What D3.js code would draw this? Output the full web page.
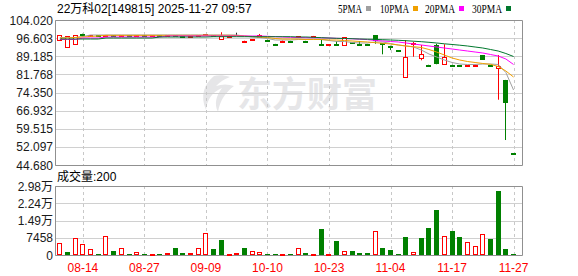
<!DOCTYPE html>
<html><head><meta charset="utf-8">
<script src="https://cdn.jsdelivr.net/npm/d3@7"></script>
<style>body{margin:0;background:#fff;}svg{display:block;}</style>
</head><body><svg id="c" width="578" height="276"></svg>
<script>
const title = "22万科02[149815] 2025-11-27 09:57";
const volTitle = "成交量:200";
const tickIdx = [3, 11, 19, 27, 35, 43, 51, 59];
const tickLabels = ["08-14", "08-27", "09-09", "10-10", "10-23", "11-04", "11-17", "11-27"];
const priceTicks = ["104.020", "96.603", "89.185", "81.768", "74.350", "66.932", "59.515", "52.097", "44.680"];
const volTicks = [0, 7458, 14916, 22374, 29832];
const volTickLabels = ["0", "7458", "1.49万", "2.24万", "2.98万"];
const maNames = ["5PMA", "10PMA", "20PMA", "30PMA"];

const open  = [95.90,92.97,94.08,98.17,97.60,97.70,97.60,97.75,97.60,97.70,97.60,97.70,97.60,97.70,97.60,97.70,97.50,97.50,97.70,98.05,97.80,96.10,97.50,97.90,95.02,96.00,97.06,95.90,94.25,95.50,95.60,97.30,95.50,97.40,94.20,93.90,94.20,93.79,94.90,94.30,94.25,97.88,94.50,93.40,91.60,80.57,94.20,88.35,85.70,93.60,85.90,85.65,85.60,85.50,85.70,89.70,85.50,84.30,79.50,49.45];
const high  = [97.88,97.47,97.88,98.41,97.70,97.70,97.75,97.75,97.70,97.70,97.70,97.70,97.70,97.70,97.70,97.70,97.50,97.60,97.78,98.20,97.80,99.00,97.60,98.82,95.55,96.10,98.30,95.90,94.25,95.60,95.60,97.45,95.50,97.50,96.10,94.00,95.40,96.94,94.90,95.40,94.25,97.88,94.50,93.50,91.60,95.83,95.14,93.79,85.70,94.30,94.10,85.65,85.60,85.60,85.80,89.70,85.50,89.70,79.50,49.45];
const low   = [95.90,92.97,94.08,97.35,97.60,97.60,97.60,97.65,97.60,97.60,97.60,97.60,97.60,97.60,97.60,97.50,97.45,97.50,97.70,98.05,97.70,96.10,97.50,97.90,95.02,96.00,97.06,95.80,94.15,95.50,95.50,97.30,95.40,97.40,93.79,93.90,93.79,93.79,94.50,93.80,94.15,94.30,89.98,91.70,91.50,80.57,89.00,87.52,85.55,85.90,85.90,85.55,85.50,85.50,85.70,87.65,85.40,71.40,54.90,49.35];
const close = [97.88,97.47,97.88,97.35,97.70,97.60,97.75,97.65,97.70,97.60,97.70,97.60,97.70,97.60,97.70,97.50,97.45,97.60,97.78,98.20,97.70,97.30,97.60,97.90,95.55,96.10,97.88,95.80,94.15,95.60,95.50,97.45,95.40,97.50,93.79,94.00,93.79,96.94,94.50,94.10,94.15,95.55,94.10,93.20,91.50,88.74,94.45,89.98,85.55,85.90,88.74,85.55,85.50,85.60,85.80,87.65,85.40,85.00,69.95,49.35];
const volume = [5060,1300,7200,4750,2450,430,8070,1730,2900,430,1150,400,300,300,860,3030,860,860,2900,9380,2600,6490,300,720,2900,1600,1150,400,400,300,300,2900,720,300,11240,300,6050,1600,1730,720,720,10380,2900,2160,400,7780,1150,7350,11670,19460,8070,10380,7780,5480,3750,8940,6920,27670,2600,430];
const volUp = [1,0,1,1,1,0,1,0,1,0,1,0,1,0,1,0,0,1,1,1,0,0,1,1,0,1,1,0,0,1,0,1,0,1,0,1,0,1,0,0,0,1,0,0,0,0,1,0,0,0,1,0,0,1,1,1,0,0,0,0];
const ma5  = [96.86,96.86,96.86,97.27,97.88,97.88,97.88,97.88,97.88,97.88,97.88,97.88,97.88,97.88,97.88,97.88,97.88,97.88,97.88,97.88,97.88,97.88,97.88,97.88,97.47,97.06,96.86,96.45,95.83,95.83,95.83,96.04,96.04,96.24,96.04,95.63,95.22,95.22,94.81,94.61,94.61,95.02,95.02,94.40,93.79,93.38,92.97,91.74,90.11,88.88,87.65,86.63,86.01,85.81,85.81,86.01,86.01,85.81,82.54,75.37];
const ma10 = [96.65,96.65,96.86,97.06,97.27,97.47,97.76,97.76,97.76,97.76,97.76,97.76,97.76,97.76,97.76,97.76,97.76,97.76,97.76,97.76,97.76,97.76,97.76,97.68,97.47,97.27,97.06,96.86,96.45,96.24,96.24,96.24,96.04,96.04,96.04,95.83,95.83,95.63,95.43,95.22,95.02,94.73,94.49,94.20,93.79,93.38,93.09,92.77,91.95,90.92,89.70,88.47,87.65,87.04,86.63,86.22,85.89,84.99,83.15,80.69];
const ma20 = [96.04,96.04,96.04,96.65,96.65,96.65,97.06,97.06,97.06,97.06,97.06,97.06,97.06,97.06,97.47,97.47,97.47,97.47,97.47,97.47,97.47,97.47,97.47,97.47,97.47,97.47,97.47,97.35,97.19,97.06,96.94,96.86,96.78,96.78,96.74,96.65,96.53,96.45,96.33,96.16,96.00,95.63,95.43,95.22,95.02,94.61,94.20,93.79,93.38,92.97,92.56,92.15,91.74,91.33,90.92,90.52,89.90,89.29,88.06,85.81];
const ma30 = [96.24,96.24,96.24,96.24,96.24,96.24,96.65,96.65,96.65,96.65,96.65,96.65,96.65,97.06,97.06,97.06,97.06,97.06,97.06,97.06,97.19,97.19,97.19,97.19,97.19,97.19,97.19,97.19,97.19,97.19,97.19,97.06,97.06,96.94,96.78,96.65,96.53,96.45,96.37,96.24,96.16,96.08,95.96,95.83,95.71,95.55,95.34,95.14,94.89,94.61,94.28,94.00,93.71,93.38,92.97,92.56,91.95,91.33,90.31,89.08];

const RED = "#ff0000", GREEN = "#008000";
const maColors = ["#a0a0a0", "#f0a000", "#ff00ff", "#00782d"];
const svg = d3.select("#c");
const L = 55, R = 522, PT = 20, PB = 165, VT = 186, VB = 255;
const n = close.length;
const x = d3.scaleBand().domain(d3.range(n)).range([L + 1, L + 1 + n * 7.69]);
const cx = i => x(i) + x.bandwidth() / 2;
const yMin = +priceTicks[priceTicks.length - 1], yMax = +priceTicks[0];
const y = d3.scaleLinear().domain([yMin, yMax]).range([PB, PT]);
const yv = d3.scaleLinear().domain([0, volTicks[volTicks.length - 1]]).range([VB, VT]);
const font = "'Liberation Sans', Arial, 'Noto Sans CJK SC', sans-serif";

// watermark
const wm = svg.append("g").attr("fill", "#e6e6e8");
wm.append("path").attr("d", "M214,76 C204,84 200,96 206,110 C207,100 212,92 222,88 C216,96 214,104 218,112 C220,100 226,92 234,86 C228,84 222,84 216,86 C220,82 224,79 230,77 C224,75 218,75 214,76 Z");
wm.append("text").attr("x", 237).attr("y", 107).attr("font-family", "'Noto Sans CJK SC', sans-serif")
  .attr("font-weight", "bold").attr("font-size", 35).attr("letter-spacing", 0).text("东方财富");

// grids
const gp = svg.append("g");
priceTicks.forEach(t => {
  const yy = Math.round(y(+t)) + 0.5;
  gp.append("line").attr("x1", L).attr("x2", R).attr("y1", yy).attr("y2", yy).attr("stroke", "#d0d0d0");
});
volTicks.forEach(t => {
  const yy = Math.round(yv(t)) + 0.5;
  gp.append("line").attr("x1", L).attr("x2", R).attr("y1", yy).attr("y2", yy).attr("stroke", "#d0d0d0");
});
tickIdx.forEach(i => {
  const xx = Math.round(cx(i)) + 0.5;
  [[PT, PB], [VT, VB]].forEach(([a, b]) => gp.append("line").attr("x1", xx).attr("x2", xx).attr("y1", a).attr("y2", b)
    .attr("stroke", "#c8c8c8").attr("stroke-dasharray", "3,3"));
});
// frames
[[PT, PB], [VT, VB]].forEach(([a, b]) => {
  svg.append("path").attr("d", `M${L + 0.5},${a + 0.5}H${R + 0.5}V${b + 0.5}H${L + 0.5}Z`).attr("fill", "none").attr("stroke", "#909090");
});

// axis labels
const ax = svg.append("g").attr("font-family", font).attr("font-size", 12).attr("fill", "#1a1a1a").attr("text-anchor", "end");
priceTicks.forEach(t => ax.append("text").attr("x", 53).attr("y", y(+t) + 4.5).text(t));
volTicks.forEach((t, k) => ax.append("text").attr("x", 53).attr("y", yv(t) + 4.5).text(volTickLabels[k]));
const xl = svg.append("g").attr("font-family", font).attr("font-size", 12).attr("fill", RED).attr("text-anchor", "middle");
tickIdx.forEach((i, k) => xl.append("text").attr("x", cx(i)).attr("y", 272).text(tickLabels[k]));

// titles
svg.append("text").attr("x", 57).attr("y", 13).attr("font-family", font).attr("font-size", 12).attr("fill", "#000").text(title);
svg.append("text").attr("x", 57).attr("y", 181).attr("font-family", font).attr("font-size", 12).attr("fill", "#000").text(volTitle);
// legend
const legX = [338, 380, 425, 472];
const legW = [24, 29, 30, 30];
maNames.forEach((nm, k) => {
  svg.append("text").attr("x", legX[k]).attr("y", 13).attr("font-family", "'Liberation Serif', serif").attr("font-size", 12)
    .attr("textLength", legW[k]).attr("lengthAdjust", "spacingAndGlyphs").attr("fill", "#000").text(nm);
  svg.append("rect").attr("x", legX[k] + legW[k] + 4).attr("y", 6).attr("width", 5).attr("height", 5).attr("fill", maColors[k]);
});

// candles
const cg = svg.append("g");
d3.range(n).forEach(i => {
  const c0 = Math.round(cx(i) - 2.5);
  const mid = c0 + 2.5;
  const up = close[i] > open[i], flat = close[i] === open[i];
  const col = flat ? "#202020" : (up ? RED : GREEN);
  const yo = y(open[i]), yc = y(close[i]);
  const top = Math.round(Math.min(yo, yc)), bot = Math.round(Math.max(yo, yc));
  if (up) {
    cg.append("line").attr("x1", mid).attr("x2", mid).attr("y1", y(high[i])).attr("y2", top).attr("stroke", col);
    cg.append("line").attr("x1", mid).attr("x2", mid).attr("y1", bot + 1).attr("y2", y(low[i])).attr("stroke", col);
    cg.append("rect").attr("x", c0 + 0.5).attr("y", top + 0.5).attr("width", 4).attr("height", Math.max(1, bot - top))
      .attr("fill", "#fff").attr("stroke", col);
  } else {
    cg.append("line").attr("x1", mid).attr("x2", mid).attr("y1", y(high[i])).attr("y2", y(low[i])).attr("stroke", col);
    cg.append("rect").attr("x", c0).attr("y", top).attr("width", 5).attr("height", Math.max(flat ? 1 : 2, bot - top)).attr("fill", col);
  }
});

// moving averages
const mas = [ma5, ma10, ma20, ma30];
const line = d3.line().x((d, i) => cx(i)).y(d => y(d));
mas.forEach((arr, k) => {
  svg.append("path").attr("d", line(arr)).attr("fill", "none").attr("stroke", maColors[k]).attr("stroke-width", 1);
});

// volume
const vg = svg.append("g");
d3.range(n).forEach(i => {
  const c0 = Math.round(cx(i) - 2.5);
  const top = Math.round(yv(volume[i]));
  if (volUp[i]) {
    vg.append("rect").attr("x", c0 + 0.5).attr("y", top + 0.5).attr("width", 4).attr("height", Math.max(1, VB - top - 1))
      .attr("fill", "#fff").attr("stroke", RED);
  } else {
    vg.append("rect").attr("x", c0).attr("y", top).attr("width", 5).attr("height", Math.max(1, VB - top)).attr("fill", GREEN);
  }
});
</script></body></html>
